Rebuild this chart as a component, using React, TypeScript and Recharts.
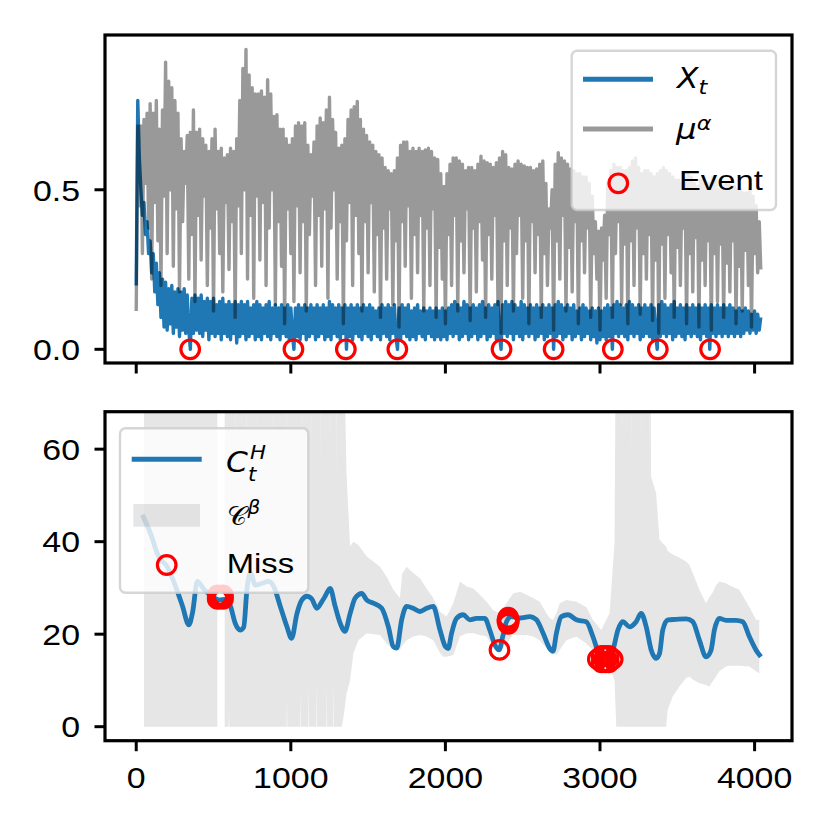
import React from 'react';
import { ComposedChart, Line, Area, Scatter, XAxis, YAxis } from 'recharts';

// ---------- top panel data: X_t and mu^alpha sampled every 10 steps (t = 0..4040) ----------
const STEP = 10;
const xtValues: number[] = [
  0.20, 0.78, 0.60, 0.50, 0.42, 0.46, 0.36, 0.40, 0.30, 0.34, 0.24, 0.30, 0.18, 0.27, 0.14, 0.24, 0.10, 0.22, 0.07, 0.21,
  0.06, 0.19, 0.08, 0.20, 0.05, 0.18, 0.07, 0.19, 0.04, 0.18, 0.06, 0.19, 0.05, 0.17, 0.06, 0.00, 0.16, 0.05, 0.17, 0.06,
  0.16, 0.05, 0.17, 0.04, 0.15, 0.06, 0.16, 0.03, 0.15, 0.05, 0.16, 0.04, 0.14, 0.05, 0.15, 0.03, 0.16, 0.05, 0.14, 0.04,
  0.15, 0.03, 0.14, 0.05, 0.15, 0.02, 0.14, 0.04, 0.15, 0.05, 0.14, 0.03, 0.15, 0.04, 0.13, 0.05, 0.14, 0.03, 0.15, 0.04,
  0.14, 0.03, 0.13, 0.05, 0.14, 0.04, 0.15, 0.03, 0.13, 0.05, 0.14, 0.04, 0.13, 0.03, 0.14, 0.05, 0.13, 0.04, 0.14, 0.03,
  0.13, 0.05, 0.00, 0.13, 0.04, 0.14, 0.03, 0.13, 0.05, 0.14, 0.03, 0.13, 0.04, 0.14, 0.05, 0.13, 0.03, 0.14, 0.04, 0.13,
  0.05, 0.14, 0.03, 0.13, 0.04, 0.15, 0.03, 0.14, 0.05, 0.13, 0.04, 0.14, 0.03, 0.13, 0.05, 0.14, 0.00, 0.13, 0.04, 0.14,
  0.03, 0.13, 0.05, 0.14, 0.04, 0.13, 0.03, 0.14, 0.05, 0.13, 0.04, 0.14, 0.03, 0.13, 0.05, 0.12, 0.04, 0.13, 0.03, 0.14,
  0.05, 0.13, 0.04, 0.14, 0.03, 0.13, 0.05, 0.14, 0.04, 0.00, 0.13, 0.03, 0.14, 0.05, 0.13, 0.04, 0.14, 0.03, 0.12, 0.04,
  0.13, 0.03, 0.14, 0.05, 0.12, 0.04, 0.13, 0.03, 0.12, 0.05, 0.13, 0.04, 0.12, 0.03, 0.13, 0.04, 0.12, 0.03, 0.13, 0.04,
  0.12, 0.03, 0.13, 0.05, 0.14, 0.04, 0.15, 0.05, 0.14, 0.03, 0.13, 0.04, 0.15, 0.05, 0.14, 0.03, 0.13, 0.04, 0.14, 0.05,
  0.13, 0.03, 0.14, 0.04, 0.15, 0.05, 0.13, 0.03, 0.14, 0.04, 0.13, 0.05, 0.14, 0.03, 0.15, 0.04, 0.00, 0.14, 0.05, 0.15,
  0.04, 0.14, 0.05, 0.15, 0.03, 0.14, 0.05, 0.13, 0.04, 0.15, 0.03, 0.14, 0.05, 0.13, 0.04, 0.14, 0.05, 0.13, 0.03, 0.14,
  0.04, 0.13, 0.05, 0.14, 0.03, 0.13, 0.04, 0.14, 0.05, 0.13, 0.00, 0.14, 0.04, 0.15, 0.05, 0.14, 0.03, 0.13, 0.04, 0.14,
  0.05, 0.13, 0.03, 0.14, 0.04, 0.12, 0.05, 0.13, 0.03, 0.14, 0.04, 0.13, 0.05, 0.12, 0.03, 0.13, 0.04, 0.12, 0.02, 0.13,
  0.03, 0.12, 0.04, 0.13, 0.03, 0.14, 0.04, 0.13, 0.00, 0.14, 0.05, 0.15, 0.04, 0.14, 0.05, 0.13, 0.04, 0.14, 0.03, 0.15,
  0.05, 0.14, 0.04, 0.13, 0.05, 0.14, 0.03, 0.13, 0.04, 0.14, 0.05, 0.13, 0.04, 0.14, 0.03, 0.13, 0.05, 0.00, 0.14, 0.04,
  0.15, 0.05, 0.14, 0.04, 0.13, 0.05, 0.14, 0.03, 0.15, 0.04, 0.13, 0.05, 0.14, 0.04, 0.13, 0.03, 0.14, 0.05, 0.13, 0.04,
  0.14, 0.05, 0.13, 0.04, 0.14, 0.03, 0.13, 0.05, 0.14, 0.04, 0.13, 0.00, 0.14, 0.05, 0.13, 0.04, 0.14, 0.05, 0.13, 0.04,
  0.14, 0.05, 0.13, 0.04, 0.14, 0.05, 0.13, 0.04, 0.12, 0.05, 0.13, 0.04, 0.12, 0.05, 0.13, 0.06, 0.12, 0.05, 0.11, 0.06,
  0.12, 0.05, 0.11, 0.06, 0.10,
];
const muValues: number[] = [
  0.12, 0.70, 0.45, 0.70, 0.30, 0.72, 0.52, 0.74, 0.38, 0.77, 0.22, 0.74, 0.46, 0.78, 0.34, 0.69, 0.20, 0.75, 0.48, 0.90,
  0.30, 0.84, 0.50, 0.82, 0.26, 0.78, 0.44, 0.74, 0.18, 0.66, 0.40, 0.62, 0.52, 0.67, 0.22, 0.68, 0.36, 0.75, 0.15, 0.68,
  0.42, 0.69, 0.28, 0.66, 0.48, 0.64, 0.20, 0.62, 0.38, 0.66, 0.12, 0.69, 0.44, 0.62, 0.30, 0.63, 0.18, 0.60, 0.46, 0.61,
  0.25, 0.63, 0.40, 0.62, 0.10, 0.66, 0.45, 0.78, 0.30, 0.88, 0.50, 0.94, 0.22, 0.86, 0.42, 0.82, 0.16, 0.80, 0.48, 0.80,
  0.28, 0.81, 0.46, 0.79, 0.20, 0.845, 0.38, 0.80, 0.50, 0.73, 0.14, 0.735, 0.40, 0.69, 0.26, 0.69, 0.08, 0.66, 0.44, 0.64,
  0.30, 0.66, 0.15, 0.70, 0.45, 0.71, 0.24, 0.70, 0.40, 0.71, 0.12, 0.64, 0.36, 0.61, 0.48, 0.65, 0.20, 0.70, 0.42, 0.725,
  0.26, 0.71, 0.44, 0.75, 0.16, 0.79, 0.38, 0.72, 0.50, 0.68, 0.22, 0.63, 0.40, 0.64, 0.08, 0.66, 0.34, 0.72, 0.46, 0.75,
  0.20, 0.76, 0.42, 0.777, 0.30, 0.72, 0.12, 0.69, 0.40, 0.67, 0.24, 0.65, 0.46, 0.64, 0.18, 0.62, 0.36, 0.61, 0.10, 0.60,
  0.38, 0.57, 0.22, 0.56, 0.44, 0.55, 0.14, 0.56, 0.34, 0.60, 0.07, 0.64, 0.40, 0.65, 0.26, 0.65, 0.45, 0.62, 0.16, 0.63,
  0.36, 0.62, 0.24, 0.63, 0.42, 0.62, 0.12, 0.625, 0.38, 0.63, 0.20, 0.62, 0.44, 0.60, 0.10, 0.595, 0.32, 0.55, 0.22, 0.51,
  0.08, 0.55, 0.36, 0.58, 0.20, 0.60, 0.42, 0.60, 0.12, 0.59, 0.34, 0.58, 0.24, 0.56, 0.44, 0.57, 0.09, 0.57, 0.38, 0.56,
  0.18, 0.58, 0.40, 0.605, 0.28, 0.59, 0.10, 0.585, 0.36, 0.58, 0.22, 0.57, 0.42, 0.585, 0.14, 0.60, 0.05, 0.62, 0.34, 0.61,
  0.20, 0.57, 0.38, 0.565, 0.12, 0.58, 0.30, 0.59, 0.42, 0.58, 0.16, 0.575, 0.34, 0.57, 0.08, 0.57, 0.40, 0.56, 0.24, 0.565,
  0.36, 0.58, 0.10, 0.59, 0.30, 0.52, 0.20, 0.44, 0.38, 0.50, 0.06, 0.58, 0.34, 0.616, 0.22, 0.60, 0.42, 0.59, 0.12, 0.58,
  0.32, 0.565, 0.18, 0.56, 0.40, 0.55, 0.08, 0.55, 0.34, 0.54, 0.24, 0.54, 0.38, 0.52, 0.10, 0.48, 0.30, 0.40, 0.22, 0.37,
  0.06, 0.38, 0.28, 0.42, 0.16, 0.52, 0.36, 0.56, 0.10, 0.58, 0.30, 0.57, 0.40, 0.57, 0.14, 0.56, 0.33, 0.56, 0.08, 0.57,
  0.34, 0.59, 0.20, 0.60, 0.38, 0.57, 0.11, 0.55, 0.30, 0.56, 0.22, 0.56, 0.36, 0.55, 0.09, 0.54, 0.28, 0.55, 0.05, 0.56,
  0.33, 0.57, 0.16, 0.56, 0.36, 0.55, 0.24, 0.54, 0.10, 0.53, 0.32, 0.53, 0.20, 0.52, 0.38, 0.53, 0.08, 0.55, 0.30, 0.54,
  0.18, 0.52, 0.35, 0.51, 0.07, 0.53, 0.28, 0.53, 0.20, 0.52, 0.34, 0.52, 0.06, 0.54, 0.30, 0.53, 0.15, 0.50, 0.33, 0.50,
  0.10, 0.52, 0.27, 0.52, 0.18, 0.51, 0.34, 0.51, 0.08, 0.50, 0.26, 0.50, 0.12, 0.49, 0.31, 0.49, 0.20, 0.50, 0.07, 0.48,
  0.30, 0.45, 0.24, 0.40, 0.25,
];
const eventX: number[] = [349, 1017, 1356, 1689, 2363, 2700, 3083, 3374, 3712];

// ---------- bottom panel data ----------
const cX: number[] = [
  40, 90, 145, 200, 255, 300, 340, 365, 395, 440, 480, 535, 575, 610, 640, 672, 695, 718, 740, 770,
  815, 855, 890, 932, 975, 1005, 1040, 1072, 1104, 1136, 1168, 1200, 1222, 1254, 1287, 1319, 1350, 1384, 1416, 1459,
  1491, 1534, 1588, 1631, 1663, 1685, 1717, 1749, 1792, 1835, 1878, 1921, 1965, 2000, 2018, 2040, 2072, 2115, 2158, 2201,
  2255, 2287, 2320, 2347, 2373, 2395, 2427, 2481, 2546, 2589, 2632, 2675, 2696, 2718, 2750, 2793, 2847, 2911, 2954, 2987,
  3008, 3051, 3084, 3116, 3148, 3191, 3234, 3266, 3299, 3331, 3363, 3385, 3406, 3439, 3492, 3557, 3600, 3643, 3686, 3718,
  3740, 3772, 3815, 3880, 3923, 3966, 4009, 4041,
];
const cH: number[] = [
  45.8, 42.0, 36.8, 34.6, 30.3, 26.0, 22.0, 24.8, 31.4, 29.6, 28.5, 27.4, 27.5, 26.0, 22.4, 20.9, 21.5, 30.3, 33.2, 30.6,
  31.0, 31.4, 30.3, 26.0, 21.6, 19.1, 24.5, 27.4, 28.2, 27.6, 25.6, 27.0, 28.2, 29.9, 26.0, 22.4, 20.6, 24.5, 27.8, 28.8,
  27.4, 26.7, 25.6, 21.6, 17.3, 17.0, 23.1, 26.0, 25.6, 24.9, 25.6, 26.0, 20.9, 17.3, 16.9, 20.2, 23.4, 24.2, 23.1, 23.4,
  23.4, 20.9, 17.7, 16.6, 19.8, 22.7, 23.8, 23.5, 23.8, 23.1, 20.2, 16.9, 16.3, 20.2, 23.8, 24.2, 23.1, 22.7, 19.5, 16.2,
  14.4, 14.4, 16.6, 20.9, 22.7, 21.6, 22.7, 24.5, 21.6, 16.6, 14.8, 15.8, 20.9, 23.1, 23.2, 23.3, 22.7, 18.7, 15.1, 16.5,
  20.9, 23.4, 23.0, 23.0, 22.7, 19.5, 16.6, 15.1,
];
const bX: number[] = [
  50, 525, 548, 572, 585, 587, 589, 598, 600, 602, 639, 641, 643, 714, 716, 718, 779, 781, 783, 887,
  889, 891, 973, 975, 977, 1059, 1061, 1063, 1070, 1072, 1074, 1113, 1115, 1117, 1134, 1136, 1138, 1166, 1168, 1170,
  1188, 1190, 1192, 1231, 1233, 1235, 1252, 1254, 1256, 1274, 1276, 1278, 1295, 1297, 1299, 1330, 1345, 1360, 1383, 1405,
  1437, 1491, 1534, 1577, 1620, 1663, 1706, 1720, 1749, 1792, 1835, 1878, 1921, 1964, 1986, 2008, 2051, 2094, 2137, 2180,
  2223, 2266, 2309, 2352, 2395, 2438, 2481, 2524, 2567, 2610, 2653, 2675, 2696, 2718, 2739, 2782, 2847, 2911, 2954, 3008,
  3062, 3094, 3105, 3137, 3139, 3141, 3170, 3172, 3174, 3202, 3204, 3206, 3225, 3227, 3229, 3268, 3270, 3272, 3318, 3320,
  3322, 3331, 3363, 3385, 3428, 3438, 3470, 3514, 3557, 3578, 3600, 3643, 3686, 3707, 3729, 3750, 3772, 3815, 3836, 3901,
  3966, 4009, 4030,
];
const bLo: (number | null)[] = [
  0, 0, null, 0, 0, 0, 0, 0, 4, 0, 0, 0, 0, 0, 0, 0, 0, 0, 0, 0,
  0, 0, 0, 6, 0, 0, 8, 0, 0, 0, 0, 0, 9, 0, 0, 0, 0, 0, 10, 0,
  0, 0, 0, 0, 9, 0, 0, 0, 0, 0, 10, 0, 0, 0, 0, 0, 3, 7, 10, 15.9,
  18.7, 20.2, 20, 19.8, 18, 16.6, 16.6, 17.5, 18.7, 19.5, 19.8, 19.5, 18.7, 16, 15.1, 15.1, 15.5, 19.5, 20.2, 20.2,
  19.8, 19.5, 17.3, 16.2, 18, 19.8, 19.8, 19.8, 19.5, 18.7, 17, 16.2, 16, 15.5, 16.6, 18.7, 19.5, 18, 16.6, 14.4,
  13, 10, 0, 0, 0, 0, 0, 0, 0, 0, 0, 0, 0, 0, 0, 0, 0, 0, 0, 0,
  0, 0, 0, 0, 0, 3.6, 6.5, 8.7, 10.5, 10.8, 10.2, 9.4, 9, 8.7, 9.8, 10.8, 12, 13, 13.2, 13.2,
  13, 12, 11.5,
];
const bHi: (number | null)[] = [
  100, 100, null, 100, 100, 58, 100, 100, 100, 100, 100, 55, 100, 100, 50, 100, 100, 60, 100, 100,
  56, 100, 100, 52, 100, 100, 100, 100, 100, 54, 100, 100, 100, 100, 100, 60, 100, 100, 100, 100,
  100, 55, 100, 100, 100, 100, 100, 58, 100, 100, 100, 100, 100, 52, 100, 100, 80, 55, 39, 40,
  39.3, 36.8, 35.7, 34.6, 32.4, 29.6, 27.8, 33, 34.6, 33.2, 32.1, 29.9, 27.8, 24.9, 24.3, 23.8, 26.7, 31.4, 30.3, 29.9,
  28.5, 27, 25.2, 24.5, 26.7, 28.8, 29.2, 28.5, 27.8, 27, 24.5, 23.5, 23.1, 24.5, 26.7, 27.4, 27, 25.9, 23.1, 20.9,
  24.5, 39.7, 100, 100, 60, 100, 100, 62, 100, 100, 58, 100, 100, 64, 100, 100, 60, 100, 100, 56,
  100, 54, 50.5, 40.4, 38.9, 38, 37.2, 36.5, 35.7, 35, 33.2, 29.6, 26.7, 28, 29, 30.5, 31.4, 31, 30.6, 29.6,
  25.9, 23.1, 23.1,
];
const missX: number[] = [
  527, 561, 527, 561, 544,
  2350,
  2406, 2406, 2401, 2411,
  2986, 3082, 3011, 3057, 3011, 3057, 3034, 3034,
];
const missY: number[] = [
  28.37, 27.63, 27.63, 28.37, 28.0,
  16.6,
  23.55, 22.25, 22.9, 22.9,
  14.6, 14.6, 15.3, 15.3, 13.9, 13.9, 15.3, 13.9,
];

const xTicks = [0, 1000, 2000, 3000, 4000];
const topYTicks = [0, 0.5];
const botYTicks = [0, 20, 40, 60];

// ---------- built tables ----------
const topData = xtValues.map((v, i) => ({ x: i * STEP, xt: v, mu: muValues[i] }));
const eventData = eventX.map((x) => ({ x, y: 0 }));
const lineData = cX.map((x, i) => ({ x, c: cH[i] }));
const bandData = bX.map((x, i) => ({
  x,
  band: bLo[i] == null || bHi[i] == null ? null : [bLo[i] as number, bHi[i] as number],
}));
const missData = missX.map((x, i) => ({ x, y: missY[i] }));

const FONT = '"Liberation Sans", Arial, Helvetica, sans-serif';
const MATH = '"DejaVu Sans", sans-serif';
const BLUE = '#1f77b4';
const RED = '#ff0000';
const X_DOMAIN: [number, number] = [-202, 4242];

const makeYTick = (fmt: (v: number) => string) => (props: any) => {
  const { x, y, payload } = props;
  return (
    <text
      transform={`translate(${x},${y}) scale(1.13,1)`}
      textAnchor="end"
      dy="0.36em"
      fontSize={30}
      fontFamily={FONT}
      fill="#000"
    >
      {fmt(payload.value)}
    </text>
  );
};
const XTick = (props: any) => {
  const { x, y, payload } = props;
  return (
    <text
      transform={`translate(${x},${y}) scale(1.13,1)`}
      textAnchor="middle"
      dy="0.72em"
      fontSize={30}
      fontFamily={FONT}
      fill="#000"
    >
      {String(payload.value)}
    </text>
  );
};
const NoTick = () => <g />;

const Ring = (props: any) => {
  const { cx, cy } = props;
  if (cx == null || cy == null) return <g />;
  return <circle cx={cx} cy={cy} r={9.3} fill="none" stroke={RED} strokeWidth={3.2} />;
};

const tickLineStyle = { stroke: '#000', strokeWidth: 3 };

export default function App() {
  return (
    <div style={{ position: 'absolute', left: 0, top: 0, width: 830, height: 830, background: '#fff', overflow: 'hidden' }}>
      <div style={{ position: 'absolute', left: 0, top: 0 }}>
        <ComposedChart width={830} height={400} data={topData} margin={{ top: 35, right: 38, bottom: 7, left: 0 }}>
          <XAxis
            dataKey="x"
            type="number"
            domain={X_DOMAIN}
            allowDataOverflow
            ticks={xTicks}
            tick={NoTick}
            tickSize={10.5}
            axisLine={false}
            tickLine={tickLineStyle}
            height={30}
          />
          <YAxis
            type="number"
            domain={[-0.0429, 0.985]}
            allowDataOverflow
            ticks={topYTicks}
            tick={makeYTick((v) => v.toFixed(1))}
            tickSize={10.5}
            tickMargin={14.5}
            axisLine={false}
            tickLine={tickLineStyle}
            width={105}
          />
          <Line
            dataKey="xt"
            type="linear"
            stroke={BLUE}
            strokeWidth={3.4}
            dot={false}
            activeDot={false}
            strokeLinejoin="round"
            isAnimationActive={false}
          />
          <Line
            dataKey="mu"
            type="linear"
            stroke="#000"
            strokeOpacity={0.4}
            strokeWidth={3.4}
            dot={false}
            activeDot={false}
            strokeLinejoin="round"
            isAnimationActive={false}
          />
          <Scatter data={eventData} dataKey="y" shape={Ring} isAnimationActive={false} />
        </ComposedChart>
      </div>
      <div style={{ position: 'absolute', left: 0, top: 400 }}>
        <ComposedChart width={830} height={430} margin={{ top: 11.7, right: 38, bottom: 59.3, left: 0 }}>
          <XAxis
            dataKey="x"
            type="number"
            domain={X_DOMAIN}
            allowDataOverflow
            ticks={xTicks}
            tick={XTick}
            tickSize={10.5}
            tickMargin={15.5}
            axisLine={false}
            tickLine={tickLineStyle}
            height={30}
          />
          <YAxis
            type="number"
            domain={[-3.03, 68.1]}
            allowDataOverflow
            ticks={botYTicks}
            tick={makeYTick((v) => String(v))}
            tickSize={10.5}
            tickMargin={14.5}
            axisLine={false}
            tickLine={tickLineStyle}
            width={105}
          />
          <Area
            data={bandData}
            dataKey="band"
            type="linear"
            stroke="none"
            fill="#808080"
            fillOpacity={0.2}
            connectNulls={false}
            dot={false}
            activeDot={false}
            isAnimationActive={false}
          />
          <Line
            data={lineData}
            dataKey="c"
            type="monotone"
            stroke={BLUE}
            strokeWidth={4.8}
            dot={false}
            activeDot={false}
            strokeLinejoin="round"
            isAnimationActive={false}
          />
          <Scatter data={missData} dataKey="y" shape={Ring} isAnimationActive={false} />
        </ComposedChart>
      </div>
      <svg width={830} height={830} style={{ position: 'absolute', left: 0, top: 0, pointerEvents: 'none' }}>
        {/* axes frames */}
        <rect x={105} y={35} width={687} height={328} fill="none" stroke="#000" strokeWidth={3.2} />
        <rect x={105} y={411.7} width={687} height={329} fill="none" stroke="#000" strokeWidth={3.2} />

        {/* top legend */}
        <rect x={571.7} y={50.7} width={204.3} height={159.3} rx={5.5} fill="#fff" fillOpacity={0.8} stroke="#cccccc" strokeOpacity={0.8} strokeWidth={2.4} />
        <line x1={583} x2={653} y1={79.3} y2={79.3} stroke={BLUE} strokeWidth={5} />
        <line x1={583} x2={653} y1={129} y2={129} stroke="#000" strokeOpacity={0.4} strokeWidth={5} />
        <circle cx={618.3} cy={183.3} r={9.3} fill="none" stroke={RED} strokeWidth={3.2} />
        <text transform="translate(677,88.3) scale(1.12,1)" fontFamily={MATH} fontSize={28} fontStyle="italic" fill="#000">
          X<tspan fontSize={20} dy={5.2}>t</tspan>
        </text>
        <text transform="translate(676,139) scale(1.12,1)" fontFamily={MATH} fontSize={29} fontStyle="italic" fill="#000">
          μ<tspan fontSize={20} dy={-9}>α</tspan>
        </text>
        <text transform="translate(679,190) scale(1.17,1)" fontFamily={FONT} fontSize={28} fill="#000">Event</text>

        {/* bottom legend */}
        <rect x={120} y={428.3} width={188.3} height={164.4} rx={5.5} fill="#fff" fillOpacity={0.8} stroke="#cccccc" strokeOpacity={0.8} strokeWidth={2.4} />
        <line x1={131.7} x2={201.7} y1={459.3} y2={459.3} stroke={BLUE} strokeWidth={5} />
        <rect x={133.3} y={504} width={66.7} height={22.7} fill="#808080" fillOpacity={0.2} />
        <circle cx={166.7} cy={565} r={9.3} fill="none" stroke={RED} strokeWidth={3.2} />
        <text transform="translate(226,471.7) scale(1.12,1)" fontFamily={MATH} fontSize={28} fontStyle="italic" fill="#000">
          C<tspan fontSize={19} dy={9.3}>t</tspan><tspan fontSize={19} dx={-5.5} dy={-22}>H</tspan>
        </text>
        <text transform="translate(227,525) scale(1.05,1)" fontFamily={MATH} fontSize={26} fill="#000">
          𝒞<tspan fontSize={19} fontStyle="italic" dy={-11}>β</tspan>
        </text>
        <text transform="translate(226.7,573.3) scale(1.17,1)" fontFamily={FONT} fontSize={28} fill="#000">Miss</text>
      </svg>
    </div>
  );
}
